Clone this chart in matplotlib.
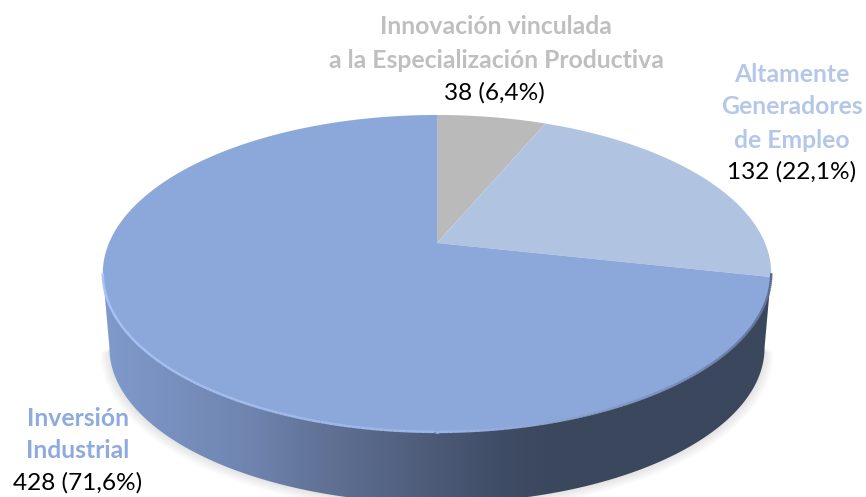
import matplotlib
matplotlib.use('Agg')
import matplotlib.pyplot as plt
import numpy as np
from matplotlib.collections import LineCollection
from matplotlib.colors import LinearSegmentedColormap, to_rgb
from matplotlib.patches import Polygon

names = ['Innovación vinculada\na la Especialización Productiva',
         'Altamente\nGeneradores\nde Empleo',
         'Inversión\nIndustrial']
values = [38, 132, 428]
shares = ['6,4', '22,1', '71,6']
slice_colors = ['#BABABA', '#B0C4E2', '#8CA7D9']
name_colors = ['#BFBFBF', '#B4C7E7', '#8FAADC']

# pixel position of each label: name lines then the value line
label_x = [496, 792, 78]
label_y = [[27, 60], [74, 107, 140], [418, 450]]
value_x = [494, 792, 78]
value_y = [93, 172, 483]

# the pie is a tilted disc, seen in perspective
CX, CY = 437, 243
A, B, K = 328, 152.6, 0.192
DEPTH, LOWER = 75, 0.98


def project(theta, s=1.0, dy=0.0):
    x, y = np.cos(np.radians(theta)), np.sin(np.radians(theta))
    w = 1 + K * y
    return CX + s * A * x / w, CY - s * B * y / w + dy


plt.rcParams['font.family'] = ['Lato', 'DejaVu Sans']
fig = plt.figure(figsize=(8.66, 4.97), dpi=100)
ax = fig.add_axes([0, 0, 1, 1])

# let pie work out the angles, then redraw each wedge on the tilted disc
wedges, _ = ax.pie(values, startangle=90, counterclock=False)
angles = [(w.theta1, w.theta2) for w in wedges]
for w in wedges:
    w.remove()
ax.set_aspect('auto')

front = np.linspace(191, 349, 240)
upper_x, upper_y = project(front)
lower_x, lower_y = project(front, LOWER, DEPTH)

# soft shadow under the side wall
for i in range(10):
    sx, sy = project(np.linspace(191, 349, 240), LOWER + 0.003 * i, DEPTH + 0.5 * i)
    ax.fill(np.r_[sx, CX], np.r_[sy, CY + 80], color='black', alpha=0.012, lw=0, zorder=1)

# side wall with its left to right shading
side = Polygon(np.column_stack([np.r_[upper_x, lower_x[::-1]],
                                np.r_[upper_y, lower_y[::-1]]]),
               closed=True, fc='none', ec='none', zorder=2)
ax.add_patch(side)
side_cmap = LinearSegmentedColormap.from_list('side', [
    (0.0, '#7F9ACB'), (0.22, '#6F84AF'), (0.30, '#64769B'),
    (0.50, '#4C5A77'), (0.60, '#3F4C65'), (0.68, '#3A475C'), (1.0, '#3A475C')])
grad = ax.imshow(np.linspace(0, 1, 400).reshape(1, -1), cmap=side_cmap, aspect='auto',
                 extent=(103, 771, 500, 250), zorder=2)
grad.set_clip_path(side)

# top face
for (t1, t2), col in zip(angles, slice_colors):
    px, py = project(np.linspace(t1, t2, 200))
    ax.fill(np.r_[CX, px], np.r_[CY, py], color=col, lw=0, zorder=3)

# bevel along the front rim, bright on the left and dark on the right
pts = np.column_stack([upper_x, upper_y])
segs = np.stack([pts[:-1], pts[1:]], axis=1)
c0, c1, c2 = [np.array(to_rgb(c)) for c in ('#A9C6F8', '#9DB6E6', '#55648A')]
f = np.linspace(0, 1, len(segs))
rim_cols = [c0 + (c1 - c0) * v / 0.5 if v < 0.5 else c1 + (c2 - c1) * (v - 0.5) / 0.5 for v in f]
ax.add_collection(LineCollection(segs, colors=rim_cols, linewidths=1.8, zorder=4))

# labels
for i in range(len(names)):
    for line, y in zip(names[i].split('\n'), label_y[i]):
        ax.text(label_x[i], y, line, color=name_colors[i], fontsize=17.8, fontweight='bold',
                ha='center', va='center', zorder=5)
    ax.text(value_x[i], value_y[i], '%d (%s%%)' % (values[i], shares[i]), color='black',
            fontsize=17.6, ha='center', va='center', zorder=5)

ax.set_xlim(0, 866)
ax.set_ylim(497, 0)
ax.axis('off')
fig.savefig('out.png', dpi=100, facecolor='white')
